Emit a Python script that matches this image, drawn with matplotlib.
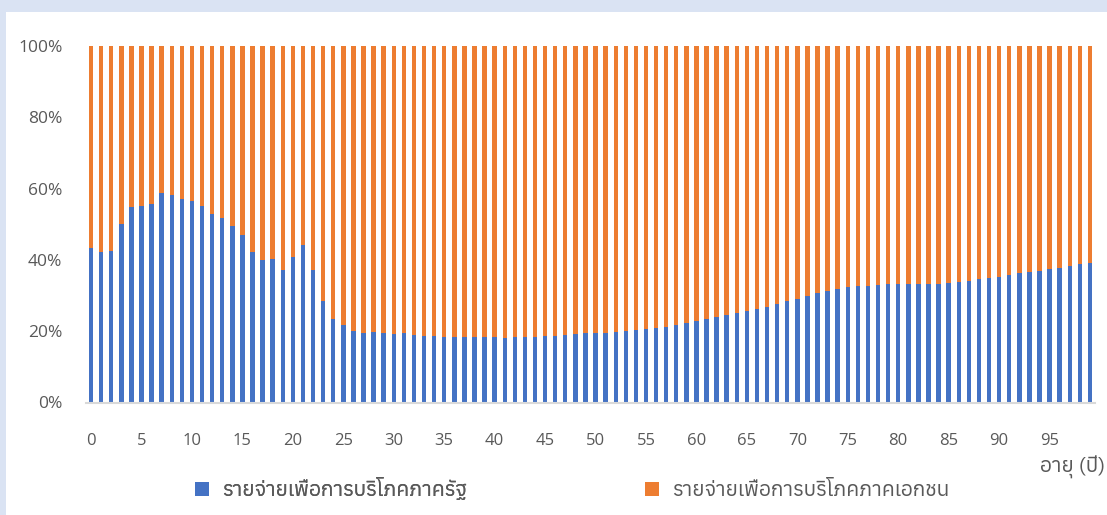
import matplotlib
matplotlib.use("Agg")
import matplotlib.pyplot as plt
from matplotlib import font_manager as fm
from matplotlib.ft2font import FT2Font
from matplotlib.patches import Rectangle

# ---- data (share of consumption expenditure, %) ----
ages = list(range(100))
gov_share = [43.2, 42.2, 42.6, 50.1, 54.8, 55.0, 55.7, 58.8, 58.2, 57.2,
             56.5, 55.2, 52.9, 51.8, 49.5, 47.0, 42.2, 40.1, 40.2, 37.1,
             40.7, 44.2, 37.3, 28.4, 23.5, 21.8, 20.1, 19.6, 19.7, 19.5,
             19.1, 19.5, 18.8, 18.7, 18.7, 18.5, 18.5, 18.4, 18.5, 18.4,
             18.4, 18.2, 18.4, 18.5, 18.5, 18.6, 18.7, 19.0, 19.3, 19.4,
             19.6, 19.6, 19.9, 20.1, 20.4, 20.5, 20.8, 21.2, 21.6, 22.2,
             22.8, 23.3, 23.9, 24.5, 25.0, 25.7, 26.3, 26.9, 27.6, 28.4,
             29.1, 29.9, 30.6, 31.2, 31.7, 32.3, 32.6, 32.8, 32.9, 33.1,
             33.1, 33.2, 33.2, 33.2, 33.3, 33.4, 33.7, 34.1, 34.6, 34.9,
             35.3, 35.7, 36.2, 36.5, 37.0, 37.4, 37.8, 38.4, 38.8, 39.2]
private_share = [100.0 - g for g in gov_share]
x_ticks = list(range(0, 100, 5))
y_ticks = [0, 20, 40, 60, 80, 100]
y_tick_labels = ["0%", "20%", "40%", "60%", "80%", "100%"]
label_gov = "รายจ่ายเพื่อการบริโภคภาครัฐ"
label_private = "รายจ่ายเพื่อการบริโภคภาคเอกชน"
x_title = "อายุ (ปี)"

# ---- pick a font with Thai glyphs ----
def has_thai(path):
    try:
        cm = FT2Font(path).get_charmap()
        return all(c in cm for c in (0x0E23, 0x0E32, 0x0E22, 0x0E1A))
    except Exception:
        return False

thai_fonts = []
for fe in fm.fontManager.ttflist:
    if fe.name not in thai_fonts and has_thai(fe.fname):
        thai_fonts.append(fe.name)
preferred = [f for f in ("Anuphan", "Loma") if f in thai_fonts]
thai_family = preferred + [f for f in thai_fonts if f not in preferred] + ["DejaVu Sans"]

plt.rcParams["font.family"] = ["Open Sans"] + thai_family
thai_fp = fm.FontProperties(family=thai_family, size=15)

W, H = 1107, 515
fig = plt.figure(figsize=(W / 100, H / 100), dpi=100)
fig.patch.set_facecolor("#DAE3F3")
fig.add_artist(Rectangle((6 / W, 0), 1 - 6 / W, (H - 12) / H,
                         transform=fig.transFigure, facecolor="white",
                         edgecolor="none", zorder=0))

left, right, top, bottom = 86, 1095, 46, 402.5
ax = fig.add_axes([left / W, (H - bottom) / H, (right - left) / W, (bottom - top) / H])
ax.set_facecolor("none")

bw = 0.44
b1 = ax.bar(ages, gov_share, width=bw, color="#4472C4", label=label_gov, zorder=2)
b2 = ax.bar(ages, private_share, width=bw, bottom=gov_share, color="#ED7D31",
            label=label_private, zorder=2)

ax.set_xlim(-0.5, 99.5)
ax.set_ylim(0, 100)
ax.set_yticks(y_ticks)
ax.set_yticklabels(y_tick_labels)
ax.set_xticks(x_ticks)
ax.set_xticklabels([str(t) for t in x_ticks])
ax.tick_params(axis="y", length=0, pad=17, labelsize=12.5, labelcolor="#595959")
ax.tick_params(axis="x", length=0, pad=22, labelsize=12, labelcolor="#595959")
for s in ("top", "right", "left"):
    ax.spines[s].set_visible(False)
ax.spines["bottom"].set_color("#D9D9D9")
ax.spines["bottom"].set_linewidth(1.5)

common = dict(loc="center left", frameon=False, prop=thai_fp, borderpad=0,
              borderaxespad=0, handlelength=0.68, handleheight=0.68,
              handletextpad=0.6, labelcolor="#595959")
leg1 = fig.legend(handles=[b1], labels=[label_gov],
                  bbox_to_anchor=(195 / W, (H - 489) / H), **common)
leg2 = fig.legend(handles=[b2], labels=[label_private],
                  bbox_to_anchor=(645 / W, (H - 491) / H), **common)
fig.add_artist(leg1)

fig.text(1040 / W, (H - 467) / H, x_title, ha="left", va="center",
         fontproperties=thai_fp, color="#595959")

fig.savefig("out.png", dpi=100, facecolor=fig.get_facecolor())
